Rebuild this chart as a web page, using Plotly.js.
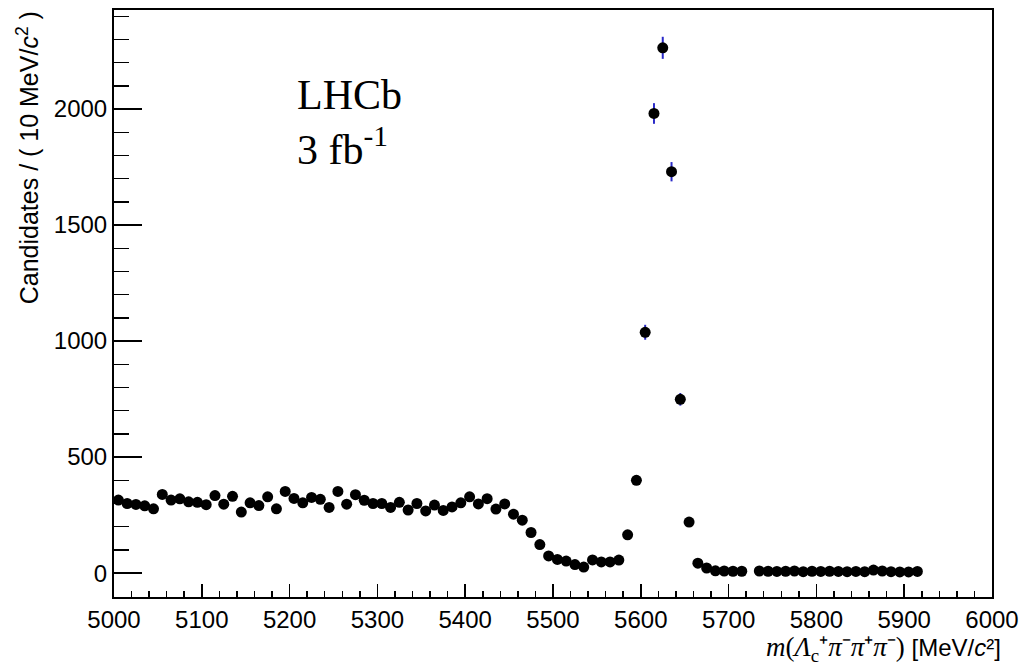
<!DOCTYPE html>
<html>
<head>
<meta charset="utf-8">
<script src="https://cdn.plot.ly/plotly-3.0.1.min.js"></script>
<style>html,body{margin:0;padding:0;background:#fff;}#chart{width:1022px;height:666px;}</style>
</head>
<body>
<div id="chart"></div>
<script>
// Bin centres (MeV/c^2), 10 MeV bins
const massBins = [5005,5015,5025,5035,5045,5055,5065,5075,5085,5095,
  5105,5115,5125,5135,5145,5155,5165,5175,5185,5195,
  5205,5215,5225,5235,5245,5255,5265,5275,5285,5295,
  5305,5315,5325,5335,5345,5355,5365,5375,5385,5395,
  5405,5415,5425,5435,5445,5455,5465,5475,5485,5495,
  5505,5515,5525,5535,5545,5555,5565,5575,5585,5595,
  5605,5615,5625,5635,5645,5655,5665,5675,5685,5695,
  5705,5715,5725,5735,5745,5755,5765,5775,5785,5795,
  5805,5815,5825,5835,5845,5855,5865,5875,5885,5895,
  5905,5915];
// Candidates per bin
const candidates = [315,300,296,290,277,339,315,320,307,305,
  295,334,297,331,263,303,291,329,277,352,
  322,303,326,318,283,352,297,338,314,300,
  300,283,305,272,300,268,293,270,285,303,
  329,298,321,276,298,254,228,175,123,74,
  59,52,37,26,57,48,48,56,165,400,
  1038,1981,2264,1730,749,220,43,22,10,9,
  8,8,null,9,8,7,8,9,6,8,
  7,8,7,6,7,6,13,9,6,5,
  5,7];

const xTickVals = [5000,5100,5200,5300,5400,5500,5600,5700,5800,5900,6000];
const yTickVals = [0,500,1000,1500,2000];

const trace = {
  x: massBins,
  y: candidates,
  type: 'scatter',
  mode: 'markers',
  marker: {color: '#000', size: 11, symbol: 'circle'},
  error_y: {type: 'sqrt', visible: true, color: '#2a2ac8', thickness: 2, width: 0},
  hoverinfo: 'x+y',
  showlegend: false
};

const sans = 'Liberation Sans, Arial, Helvetica, sans-serif';
const serif = 'Liberation Serif, Times New Roman, serif';

const layout = {
  width: 1022, height: 666,
  margin: {l: 114, r: 30, t: 10, b: 69},
  paper_bgcolor: '#fff', plot_bgcolor: '#fff',
  showlegend: false,
  xaxis: {
    range: [5000, 6000],
    tickvals: xTickVals,
    ticktext: xTickVals.map(String),
    ticks: 'inside', ticklen: 13, tickwidth: 1.5, tickcolor: '#000',
    minor: {dtick: 20, ticks: 'inside', ticklen: 6, tickwidth: 1.5, tickcolor: '#000', showgrid: false},
    showline: true, linecolor: '#000', linewidth: 2, mirror: true,
    showgrid: false, zeroline: false,
    tickfont: {family: sans, size: 24, color: '#000'}
  },
  yaxis: {
    range: [-103, 2427],
    tickvals: yTickVals,
    ticktext: yTickVals.map(String),
    ticks: 'inside', ticklen: 28, tickwidth: 1.5, tickcolor: '#000',
    minor: {dtick: 100, ticks: 'inside', ticklen: 15, tickwidth: 1.5, tickcolor: '#000', showgrid: false},
    showline: true, linecolor: '#000', linewidth: 2, mirror: true,
    showgrid: false, zeroline: false,
    tickfont: {family: sans, size: 24, color: '#000'}
  },
  annotations: [
    {
      text: 'Candidates / ( 10 MeV/<i>c</i><sup>2</sup> )',
      xref: 'paper', yref: 'paper', x: -0.098, y: 0.749,
      xanchor: 'center', yanchor: 'middle', textangle: -90,
      showarrow: false, font: {family: sans, size: 25, color: '#000'}
    },
    {
      text: '<span style="font-family:Liberation Serif;font-size:27px"><i>m</i>(<i>Λ</i><sub>c</sub>⁺<i>π</i>⁻<i>π</i>⁺<i>π</i>⁻)</span> [MeV/<i>c</i>²]',
      xref: 'paper', yref: 'paper', x: 1.013, y: -0.088,
      xanchor: 'right', yanchor: 'middle',
      showarrow: false, font: {family: sans, size: 24, color: '#000'}
    },
    {
      text: 'LHCb',
      xref: 'paper', yref: 'paper', x: 0.206, y: 0.855,
      xanchor: 'left', yanchor: 'middle',
      showarrow: false, font: {family: serif, size: 42, color: '#000'}
    },
    {
      text: '3 fb<sup>-1</sup>',
      xref: 'paper', yref: 'paper', x: 0.206, y: 0.767,
      xanchor: 'left', yanchor: 'middle',
      showarrow: false, font: {family: serif, size: 42, color: '#000'}
    }
  ]
};

Plotly.newPlot('chart', [trace], layout, {displayModeBar: false, staticPlot: true});
</script>
</body>
</html>
